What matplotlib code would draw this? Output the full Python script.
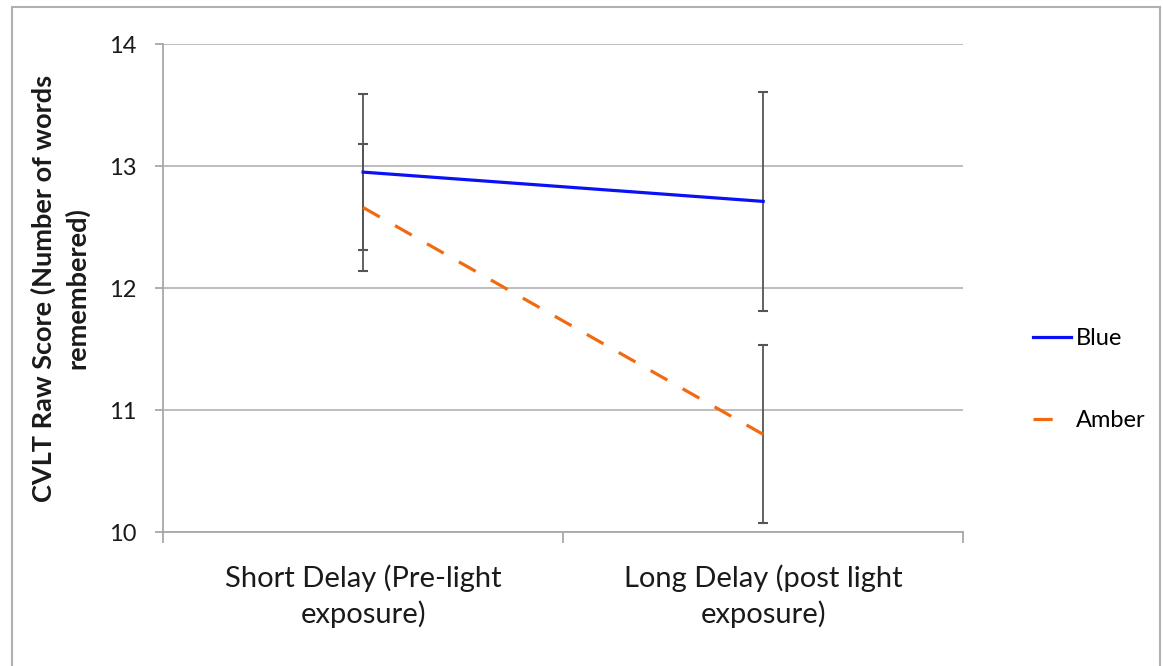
import numpy as np
import matplotlib.pyplot as plt
from matplotlib.lines import Line2D
from matplotlib.patches import Rectangle

plt.rcParams['font.family'] = ['Lato', 'DejaVu Sans']

# Data
categories = ['Short Delay (Pre-light\nexposure)', 'Long Delay (post light\nexposure)']
blue_mean = [12.95, 12.71]
blue_err = [0.64, 0.90]
amber_mean = [12.66, 10.80]
amber_err = [0.52, 0.73]

blue_c = '#0a12f5'
amber_c = '#f26a10'

fig = plt.figure(figsize=(11.63, 6.66), dpi=100)
ax = fig.add_axes([0.1402, 0.2012, 0.688, 0.7327])

x = np.arange(len(categories)) + 0.5

ax.errorbar(x, blue_mean, yerr=blue_err, fmt='none', ecolor='#555555', elinewidth=1.3,
            capsize=3.5, capthick=1.5, zorder=2)
ax.errorbar(x, amber_mean, yerr=amber_err, fmt='none', ecolor='#555555', elinewidth=1.3,
            capsize=3.5, capthick=1.5, zorder=2)
ax.plot(x, blue_mean, color=blue_c, lw=2.3, zorder=3)
ax.plot(x, amber_mean, color=amber_c, lw=2.3, dashes=(6, 5.5), zorder=3)

ax.set_xlim(0, 2)
ax.set_ylim(10, 14)
ax.set_yticks([10, 11, 12, 13, 14])
ax.set_xticks([0, 1, 2])
ax.set_xticklabels([])
ax.set_xticks(x, minor=True)
ax.set_xticklabels(categories, minor=True, fontsize=21, color='#1a1a1a', linespacing=1.4)
ax.tick_params(axis='x', which='minor', length=0, pad=23)
ax.tick_params(axis='x', which='major', length=8, color='#a0a0a0', width=1.2)
ax.tick_params(axis='y', length=6, color='#a0a0a0', width=1.2, labelsize=17, pad=13,
               labelcolor='#1a1a1a')

ax.yaxis.grid(True, color='#b8b8b8', lw=1.3)
ax.set_axisbelow(True)
for s in ['top', 'right']:
    ax.spines[s].set_visible(False)
for s in ['left', 'bottom']:
    ax.spines[s].set_color('#a8a8a8')
    ax.spines[s].set_linewidth(1.3)

ax.set_ylabel('CVLT Raw Score (Number of words\nremembered)', fontsize=19.5,
              fontweight='bold', color='#1a1a1a', linespacing=1.4, labelpad=14)

handles = [Line2D([], [], color=blue_c, lw=2.3),
           Line2D([], [], color=amber_c, lw=2.3, dashes=(6, 12))]
fig.legend(handles, ['Blue', 'Amber'], loc='center left', bbox_to_anchor=(0.870, 0.430),
           frameon=False, fontsize=17, handlelength=1.6, handletextpad=0.2,
           labelspacing=2.6)

fig.patches.append(Rectangle((12 / 1163, -0.02), 1148 / 1163, 1.02 - 7 / 666,
                             transform=fig.transFigure, fill=False, edgecolor='#b0b0b0',
                             lw=1.5))

fig.savefig('out.png', dpi=100)
